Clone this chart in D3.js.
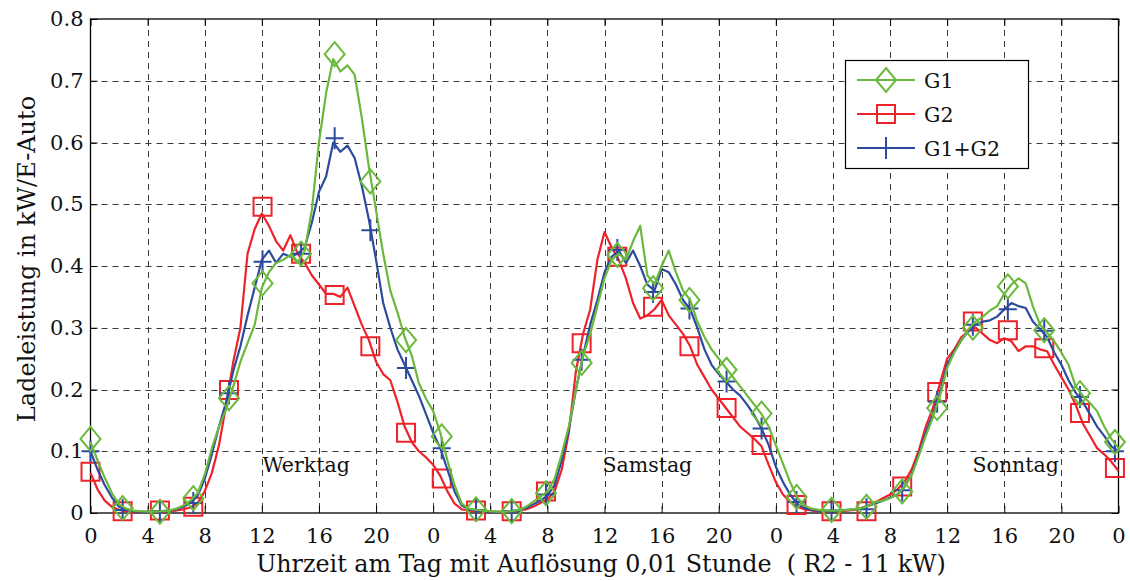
<!DOCTYPE html>
<html><head><meta charset="utf-8">
<script src="https://cdn.jsdelivr.net/npm/d3@7"></script>
<style>
html,body{margin:0;padding:0;background:#fff;}
svg{display:block;}
.word{font-family:"DejaVu Serif",serif;}
.num{font-family:"DejaVu Serif",serif;}
</style></head>
<body>
<svg id="chart" width="1130" height="581"></svg>
<script>
// ---- data ----
// sample grid: 0.5 hour steps over three days (Werktag, Samstag, Sonntag)
const hours = d3.range(0, 72.001, 0.5);
const g1 = [
0.115,0.085,0.057,0.032,0.014,0.007,0.004,0.003,0.002,0.002,0.003,0.004,
0.007,0.012,0.02,0.032,0.062,0.105,0.14,0.168,0.205,0.245,0.275,0.305,
0.365,0.39,0.405,0.41,0.418,0.405,0.425,0.49,0.6,0.68,0.735,0.715,
0.725,0.71,0.64,0.56,0.49,0.42,0.36,0.325,0.285,0.255,0.21,0.185,
0.165,0.13,0.085,0.045,0.015,0.007,0.005,0.004,0.003,0.002,0.002,0.003,
0.005,0.01,0.018,0.026,0.035,0.055,0.095,0.14,0.2,0.255,0.29,0.335,
0.38,0.41,0.42,0.41,0.44,0.465,0.385,0.37,0.4,0.425,0.39,0.36,
0.345,0.31,0.285,0.265,0.25,0.235,0.22,0.205,0.19,0.175,0.16,0.14,
0.11,0.08,0.05,0.025,0.012,0.007,0.005,0.004,0.004,0.004,0.005,0.006,
0.008,0.012,0.018,0.02,0.024,0.03,0.042,0.06,0.092,0.125,0.155,0.19,
0.235,0.26,0.28,0.298,0.31,0.318,0.328,0.335,0.355,0.37,0.38,0.372,
0.335,0.305,0.292,0.278,0.26,0.24,0.205,0.19,0.178,0.165,0.14,0.12,
0.105];
const g2 = [
0.065,0.038,0.02,0.01,0.005,0.003,0.002,0.002,0.002,0.002,0.002,0.003,
0.004,0.006,0.009,0.016,0.035,0.065,0.11,0.175,0.245,0.3,0.42,0.46,
0.485,0.465,0.44,0.425,0.45,0.42,0.405,0.385,0.37,0.355,0.355,0.35,
0.365,0.335,0.305,0.28,0.245,0.225,0.215,0.18,0.14,0.115,0.1,0.09,
0.078,0.06,0.035,0.015,0.006,0.004,0.003,0.002,0.002,0.002,0.002,0.003,
0.004,0.006,0.01,0.016,0.022,0.035,0.07,0.13,0.23,0.29,0.33,0.41,
0.455,0.43,0.41,0.38,0.34,0.315,0.32,0.33,0.345,0.32,0.305,0.29,
0.27,0.24,0.22,0.2,0.185,0.17,0.155,0.14,0.13,0.12,0.108,0.078,
0.05,0.03,0.018,0.01,0.006,0.004,0.003,0.003,0.003,0.003,0.004,0.005,
0.008,0.012,0.018,0.024,0.03,0.038,0.05,0.07,0.1,0.14,0.17,0.21,
0.25,0.265,0.285,0.295,0.3,0.29,0.28,0.275,0.283,0.278,0.262,0.27,
0.27,0.265,0.262,0.24,0.22,0.2,0.175,0.145,0.125,0.105,0.095,0.083,
0.068];
const g12 = [
0.1,0.07,0.045,0.025,0.01,0.005,0.003,0.002,0.002,0.002,0.003,0.004,
0.006,0.01,0.016,0.028,0.055,0.095,0.14,0.18,0.23,0.27,0.32,0.365,
0.41,0.425,0.405,0.42,0.415,0.42,0.43,0.47,0.52,0.545,0.6,0.585,
0.595,0.575,0.53,0.475,0.41,0.34,0.3,0.265,0.24,0.215,0.19,0.16,
0.13,0.105,0.07,0.035,0.012,0.006,0.004,0.003,0.002,0.002,0.002,0.003,
0.005,0.008,0.014,0.02,0.028,0.045,0.085,0.135,0.2,0.255,0.305,0.345,
0.39,0.415,0.425,0.405,0.425,0.4,0.37,0.36,0.395,0.39,0.37,0.345,
0.33,0.3,0.265,0.24,0.225,0.213,0.2,0.19,0.175,0.158,0.137,0.11,
0.075,0.05,0.03,0.015,0.008,0.005,0.004,0.003,0.003,0.004,0.005,0.006,
0.008,0.012,0.016,0.02,0.025,0.03,0.042,0.062,0.095,0.13,0.16,0.195,
0.24,0.262,0.28,0.295,0.305,0.31,0.312,0.318,0.33,0.34,0.335,0.332,
0.31,0.298,0.285,0.26,0.24,0.215,0.195,0.18,0.16,0.14,0.125,0.108,
0.1];
// marker positions (hours) and marker values
const markerHours = [0,2.25,4.86,7.2,9.7,12.05,14.75,17.1,19.6,22.1,24.6,27.0,29.5,31.9,34.4,
  36.9,39.4,41.95,44.55,47.0,49.45,51.9,54.35,56.85,59.3,61.8,64.25,66.8,69.3,71.75];
const g1Markers = [0.12,0.008,0.002,0.024,0.186,0.372,0.42,0.743,0.537,0.28,0.124,0.006,0.003,0.032,0.243,
  0.418,0.364,0.345,0.232,0.161,0.026,0.005,0.01,0.035,0.17,0.30,0.367,0.296,0.194,0.115];
const g2Markers = [0.067,0.003,0.004,0.01,0.199,0.496,0.42,0.353,0.27,0.13,0.056,0.004,0.003,0.035,0.275,
  0.415,0.334,0.27,0.17,0.11,0.013,0.003,0.003,0.043,0.196,0.31,0.296,0.267,0.162,0.073];
const g12Markers = [0.1,0.005,0.003,0.016,0.194,0.407,0.42,0.607,0.458,0.235,0.105,0.005,0.003,0.03,0.248,
  0.426,0.358,0.331,0.213,0.137,0.018,0.004,0.006,0.037,0.18,0.305,0.33,0.295,0.188,0.1];
const xTickValues = [0,4,8,12,16,20,24,28,32,36,40,44,48,52,56,60,64,68,72];
const xTickLabels = ["0","4","8","12","16","20","0","4","8","12","16","20","0","4","8","12","16","20","0"];
const yTickValues = [0,0.1,0.2,0.3,0.4,0.5,0.6,0.7,0.8];
const yTickLabels = ["0","0.1","0.2","0.3","0.4","0.5","0.6","0.7","0.8"];
const dayNames = ["Werktag","Samstag","Sonntag"];
const dayLabelHours = [15.1,39.0,64.8];
const seriesNames = ["G1","G2","G1+G2"];
const xTitle = "Uhrzeit am Tag mit Auflösung 0,01 Stunde\u00A0\u00A0( R2 - 11 kW)";
const yTitle = "Ladeleistung in kW/E-Auto";

// ---- drawing ----
const L = 90.5, R = 1118.5, T = 19, B = 513;
const svg = d3.select("#chart");
const x = d3.scaleLinear().domain([0,72]).range([L,R]);
const y = d3.scaleLinear().domain([0,0.8]).range([B,T]);

const colors = {G1:"#6bb93c", G2:"#ee2229", "G1+G2":"#2d4b9e"};

// grid
const grid = svg.append("g").attr("stroke","#3a3a3a").attr("stroke-width",1).attr("stroke-dasharray","6,5");
grid.selectAll("line.v").data(xTickValues.slice(1,-1)).join("line")
  .attr("x1",d=>Math.round(x(d))+0.5).attr("x2",d=>Math.round(x(d))+0.5).attr("y1",T).attr("y2",B);
grid.selectAll("line.h").data(yTickValues.slice(1,-1)).join("line")
  .attr("y1",d=>Math.round(y(d))+0.5).attr("y2",d=>Math.round(y(d))+0.5).attr("x1",L).attr("x2",R);

// axes
const xAxis = d3.axisBottom(x).tickValues(xTickValues).tickFormat((d,i)=>xTickLabels[i]).tickSize(-7).tickPadding(15);
const gx = svg.append("g").attr("transform",`translate(0,${B})`).call(xAxis);
const xAxisTop = d3.axisTop(x).tickValues(xTickValues).tickFormat("").tickSize(-7);
svg.append("g").attr("transform",`translate(0,${T})`).call(xAxisTop);
const yAxis = d3.axisLeft(y).tickValues(yTickValues).tickFormat((d,i)=>yTickLabels[i]).tickSize(-7).tickPadding(7);
const gy = svg.append("g").attr("transform",`translate(${L},0)`).call(yAxis);
const yAxisR = d3.axisRight(y).tickValues(yTickValues).tickFormat("").tickSize(-7);
svg.append("g").attr("transform",`translate(${R},0)`).call(yAxisR);
svg.selectAll(".domain").remove();
svg.selectAll(".tick line").attr("stroke","#000");
svg.selectAll(".tick text").attr("class","num").attr("font-size",21).attr("fill","#111");

// box
svg.append("rect").attr("x",L).attr("y",T).attr("width",R-L).attr("height",B-T)
  .attr("fill","none").attr("stroke","#000").attr("stroke-width",1.3);

// day labels
svg.append("g").selectAll("text").data(dayNames).join("text")
  .attr("class","word").attr("font-size",20.5).attr("fill","#111")
  .attr("text-anchor","middle")
  .attr("x",(d,i)=>x(dayLabelHours[i])).attr("y",y(0.067)).text(d=>d);

// series
const series = [
  {name:"G2", vals:g2, mk:g2Markers, sym:"square"},
  {name:"G1+G2", vals:g12, mk:g12Markers, sym:"plus"},
  {name:"G1", vals:g1, mk:g1Markers, sym:"diamond"}
];
const symPath = {
  diamond:"M0,-12L10,0L0,12L-10,0Z",
  square:"M-9,-9H9V9H-9Z",
  plus:"M-9,0H9M0,-11V11"
};
const line = d3.line().x((d,i)=>x(hours[i])).y(d=>y(d));
series.forEach(s=>{
  const g = svg.append("g");
  g.append("path").datum(s.vals).attr("d",line).attr("fill","none")
    .attr("stroke",colors[s.name]).attr("stroke-width",2.2).attr("stroke-linejoin","round");
  g.selectAll("path.m").data(s.mk).join("path").attr("class","m")
    .attr("transform",(d,i)=>`translate(${x(markerHours[i])},${y(d)})`)
    .attr("d",symPath[s.sym]).attr("fill","none").attr("stroke",colors[s.name]).attr("stroke-width",2);
});

// legend
const lg = svg.append("g");
lg.append("rect").attr("x",845.5).attr("y",60.5).attr("width",183).attr("height",108)
  .attr("fill","#fff").attr("stroke","#000").attr("stroke-width",1.2);
const legendOrder = [
  {name:"G1", sym:"diamond"},
  {name:"G2", sym:"square"},
  {name:"G1+G2", sym:"plus"}
];
legendOrder.forEach((e,i)=>{
  const cy = 80 + i*34;
  lg.append("line").attr("x1",857).attr("x2",915).attr("y1",cy).attr("y2",cy)
    .attr("stroke",colors[e.name]).attr("stroke-width",2.2);
  lg.append("path").attr("transform",`translate(886,${cy})`).attr("d",symPath[e.sym])
    .attr("fill","none").attr("stroke",colors[e.name]).attr("stroke-width",2);
  lg.append("text").attr("class","word").attr("x",924).attr("y",cy+8).attr("font-size",20.5)
    .attr("fill","#111").text(seriesNames[seriesNames.indexOf(e.name)]);
});

// axis titles
svg.append("text").attr("class","word").attr("font-size",23.8).attr("fill","#111")
  .attr("text-anchor","middle").attr("x",601).attr("y",572).text(xTitle);
svg.append("text").attr("class","word").attr("font-size",24).attr("fill","#111")
  .attr("text-anchor","middle").attr("transform",`translate(35,${(T+B)/2 - 7}) rotate(-90)`).text(yTitle);
</script>
</body></html>
